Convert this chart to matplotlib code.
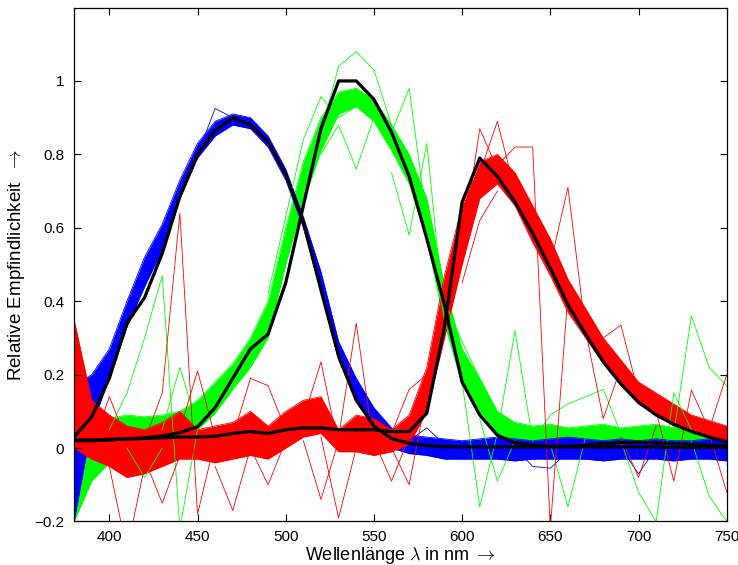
import matplotlib
matplotlib.use("Agg")
import matplotlib.pyplot as plt
import numpy as np

plt.rcParams['font.family'] = ['Liberation Sans', 'DejaVu Sans']
plt.rcParams['mathtext.fontset'] = 'cm'

# wavelength grid in nm (10 nm steps)
wl = np.arange(380, 751, 10)

# reference curves (black)
ref_blue = [0.03, 0.085, 0.19, 0.34, 0.41, 0.53, 0.685, 0.80, 0.865, 0.90, 0.88, 0.835, 0.745,
            0.615, 0.43, 0.25, 0.13, 0.06, 0.026, 0.013, 0.007, 0.004, 0.003, 0.003, 0.003, 0.003,
            0.003, 0.003, 0.003, 0.003, 0.003, 0.003, 0.003, 0.003, 0.002, 0.002, 0.002, 0.002]
ref_green = [0.02, 0.02, 0.022, 0.025, 0.028, 0.033, 0.042, 0.058, 0.11, 0.19, 0.27, 0.31, 0.45,
             0.66, 0.87, 1.0, 1.0, 0.95, 0.86, 0.74, 0.57, 0.39, 0.18, 0.09, 0.035, 0.014, 0.008,
             0.005, 0.005, 0.008, 0.012, 0.015, 0.016, 0.014, 0.012, 0.01, 0.008, 0.006]
ref_red = [0.022, 0.022, 0.024, 0.025, 0.026, 0.028, 0.03, 0.03, 0.032, 0.04, 0.045, 0.04, 0.05,
           0.055, 0.055, 0.05, 0.05, 0.05, 0.045, 0.045, 0.095, 0.33, 0.67, 0.79, 0.74, 0.67,
           0.585, 0.49, 0.39, 0.31, 0.235, 0.175, 0.125, 0.09, 0.065, 0.045, 0.03, 0.017]

# dense bundles of estimated curves: lower / upper edge
blue_lo = [-0.2, 0.06, 0.19, 0.33, 0.44, 0.54, 0.68, 0.79, 0.85, 0.88, 0.87, 0.82, 0.73, 0.60,
           0.43, 0.24, 0.13, 0.065, 0.0, -0.015, -0.02, -0.03, -0.03, -0.03, -0.03, -0.035, -0.03,
           -0.03, -0.03, -0.03, -0.035, -0.03, -0.03, -0.03, -0.035, -0.03, -0.03, -0.035]
blue_hi = [0.17, 0.20, 0.27, 0.40, 0.52, 0.61, 0.73, 0.83, 0.89, 0.91, 0.90, 0.85, 0.76, 0.63,
           0.48, 0.29, 0.19, 0.11, 0.055, 0.035, 0.03, 0.025, 0.02, 0.025, 0.03, 0.025, 0.02,
           0.025, 0.03, 0.025, 0.02, 0.025, 0.02, 0.025, 0.02, 0.02, 0.025, 0.02]
green_lo = [-0.2, -0.09, -0.04, -0.03, -0.02, -0.01, 0.0, 0.05, 0.095, 0.16, 0.22, 0.30, 0.50,
            0.67, 0.81, 0.91, 0.93, 0.89, 0.81, 0.72, 0.57, 0.34, 0.18, 0.10, 0.04, 0.01, 0.0,
            0.005, 0.0, 0.005, 0.0, 0.005, 0.0, 0.005, 0.0, 0.0, 0.005, 0.0]
green_hi = [0.2, 0.07, 0.08, 0.09, 0.085, 0.09, 0.10, 0.13, 0.18, 0.23, 0.30, 0.40, 0.60, 0.78,
            0.90, 0.97, 0.98, 0.95, 0.88, 0.80, 0.68, 0.44, 0.27, 0.19, 0.10, 0.07, 0.06, 0.065,
            0.055, 0.06, 0.065, 0.055, 0.06, 0.065, 0.055, 0.06, 0.06, 0.055]
red_lo = [0.0, -0.03, -0.05, -0.08, -0.07, -0.05, -0.03, -0.03, -0.04, -0.03, -0.02, -0.03, 0.0,
          0.03, 0.04, -0.01, -0.01, -0.02, -0.01, 0.01, 0.10, 0.30, 0.50, 0.68, 0.72, 0.66, 0.56,
          0.47, 0.37, 0.30, 0.23, 0.17, 0.12, 0.09, 0.06, 0.045, 0.03, 0.02]
red_hi = [0.35, 0.13, 0.09, 0.06, 0.05, 0.07, 0.10, 0.05, 0.06, 0.07, 0.10, 0.06, 0.10, 0.13,
          0.14, 0.05, 0.09, 0.08, 0.05, 0.09, 0.22, 0.47, 0.66, 0.78, 0.80, 0.75, 0.66, 0.57,
          0.46, 0.38, 0.30, 0.24, 0.18, 0.15, 0.12, 0.09, 0.075, 0.06]

# single outlier curves (wavelengths, values)
blue_out = [
    ([450, 460, 470], [0.80, 0.925, 0.90]),
    ([630, 640, 650, 660], [0.0, -0.05, -0.055, -0.01]),
    ([690, 700, 710], [0.0, -0.07, 0.0]),
    ([570, 580, 590], [0.02, 0.055, 0.01]),
]
green_out = [
    ([400, 410, 420, 430, 440, 450], [0.05, 0.15, 0.30, 0.47, -0.22, 0.05]),
    ([430, 440, 450], [0.05, 0.22, 0.06]),
    ([410, 420, 430], [0.0, -0.08, 0.0]),
    ([490, 500, 510, 520, 530, 540], [0.42, 0.63, 0.84, 0.957, 0.90, 0.93]),
    ([520, 530, 540, 550, 560], [0.86, 1.04, 1.08, 1.03, 0.88]),
    ([520, 530, 540, 550, 560], [0.80, 0.88, 0.76, 0.90, 0.84]),
    ([550, 560, 570, 580, 590], [0.93, 0.86, 0.98, 0.62, 0.35]),
    ([560, 570, 580, 590, 600], [0.75, 0.58, 0.83, 0.35, 0.17]),
    ([590, 600, 610, 620], [0.40, 0.29, 0.19, 0.06]),
    ([600, 610, 620, 630, 640], [0.18, -0.16, 0.04, 0.32, 0.02]),
    ([610, 620, 630], [0.08, -0.09, 0.02]),
    ([640, 650, 660, 670, 680, 690], [0.02, 0.09, 0.12, 0.14, 0.16, 0.04]),
    ([650, 660, 670], [0.01, -0.16, 0.03]),
    ([690, 700, 710, 720, 730], [0.02, -0.12, -0.20, 0.15, 0.05]),
    ([720, 730, 740, 750], [0.04, 0.36, 0.22, 0.17]),
    ([730, 740, 750], [0.02, -0.13, -0.2]),
]
red_out = [
    ([390, 400, 410], [0.0, 0.14, 0.02]),
    ([390, 400, 410, 420], [0.05, -0.05, -0.28, -0.05]),
    ([420, 430, 440], [-0.03, -0.15, -0.02]),
    ([420, 430, 440, 450, 460], [0.02, 0.15, 0.64, -0.18, 0.02]),
    ([440, 450, 460], [0.05, 0.21, 0.03]),
    ([460, 470, 480], [-0.05, -0.17, 0.0]),
    ([470, 480, 490, 500], [0.03, 0.19, 0.17, 0.05]),
    ([480, 490, 500], [0.0, -0.10, 0.02]),
    ([510, 520, 530], [0.02, -0.14, 0.02]),
    ([510, 520, 530], [0.08, 0.235, 0.0]),
    ([520, 530, 540], [0.03, -0.19, 0.0]),
    ([530, 540, 550], [0.03, 0.34, 0.0]),
    ([550, 560, 570], [0.02, -0.09, 0.03]),
    ([560, 570, 580], [0.0, -0.10, 0.15]),
    ([560, 570, 580], [0.04, 0.16, 0.2]),
    ([600, 610, 620, 630], [0.55, 0.87, 0.76, 0.72]),
    ([610, 620, 630], [0.75, 0.89, 0.70]),
    ([600, 610, 620], [0.45, 0.62, 0.70]),
    ([620, 630, 640, 650, 660], [0.77, 0.82, 0.82, -0.22, 0.42]),
    ([650, 660, 670], [0.50, 0.71, 0.32]),
    ([670, 680, 690, 700], [0.35, 0.30, 0.335, 0.15]),
    ([670, 680, 690], [0.32, 0.08, 0.22]),
    ([690, 700, 710], [0.03, -0.08, 0.06]),
    ([710, 720, 730, 740, 750], [0.10, -0.09, 0.158, 0.05, 0.20]),
    ([740, 750], [0.04, -0.12]),
]

fig = plt.figure(figsize=(7.38, 5.65), dpi=100)
ax = fig.add_axes([0.1003, 0.077, 0.8844, 0.9097])

col_b = (0, 0, 1)
col_g = (0, 1, 0)
col_r = (1, 0, 0)

for lo, hi, c in [(green_lo, green_hi, col_g), (blue_lo, blue_hi, col_b), (red_lo, red_hi, col_r)]:
    ax.fill_between(wl, lo, hi, color=c, lw=0, zorder=1)
    ax.plot(wl, lo, color=c, lw=0.6, zorder=1)
    ax.plot(wl, hi, color=c, lw=0.6, zorder=1)

for outs, c in [(blue_out, col_b), (green_out, col_g), (red_out, col_r)]:
    for x, y in outs:
        ax.plot(x, y, color=c, lw=0.6, zorder=2)

for ref in [ref_blue, ref_green, ref_red]:
    ax.plot(wl, ref, color='black', lw=2.3, zorder=3)

ax.set_xlim(380, 750)
ax.set_ylim(-0.2, 1.2)
ax.set_xticks([400, 450, 500, 550, 600, 650, 700, 750])
ax.set_yticks([-0.2, 0, 0.2, 0.4, 0.6, 0.8, 1.0])
ax.set_yticklabels(['\u22120.2', '0', '0.2', '0.4', '0.6', '0.8', '1'])
ax.tick_params(direction='in', top=True, right=True, length=5, width=0.8, labelsize=11, pad=7)
ax.tick_params(axis='x', pad=6)
for s in ax.spines.values():
    s.set_linewidth(0.9)

ax.set_xlabel(r'Wellenlänge $\lambda$ in nm $\rightarrow$', fontsize=13)
ax.set_ylabel(r'Relative Empfindlichkeit  $\rightarrow$', fontsize=13.5)
ax.xaxis.set_label_coords(0.5, -0.046)
ax.yaxis.set_label_coords(-0.072, 0.5)

fig.savefig('out.png', dpi=100)
